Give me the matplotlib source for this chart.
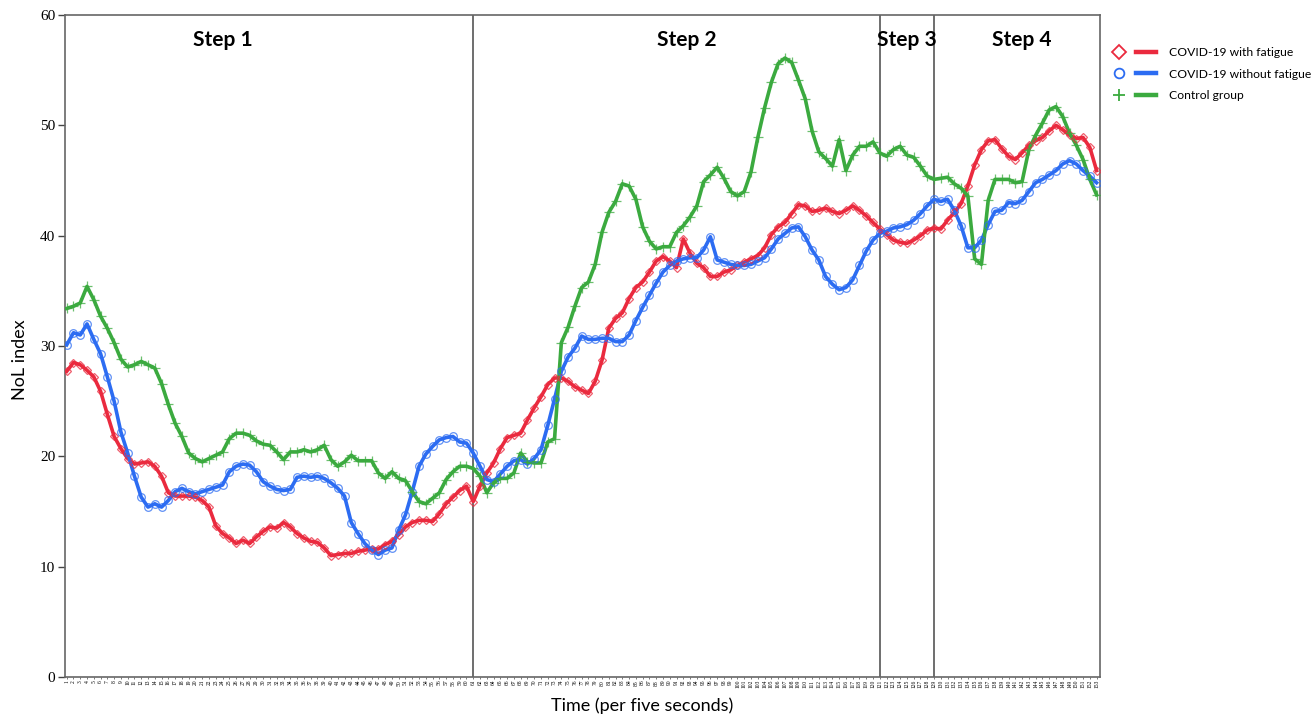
import matplotlib
matplotlib.use("Agg")
import matplotlib.pyplot as plt
from matplotlib.lines import Line2D
from matplotlib.legend_handler import HandlerTuple
import numpy as np

# NoL index per 5-second time point
fatigue = [
    27.7, 28.5, 28.3, 27.8, 27.2, 25.9, 23.8, 21.8, 20.7, 19.8, 19.3, 19.4, 19.5, 19.1, 18.2, 16.7,
    16.4, 16.4, 16.4, 16.3, 16.0, 15.4, 13.7, 13.0, 12.6, 12.1, 12.4, 12.1, 12.7, 13.2, 13.6, 13.5,
    14.0, 13.6, 13.0, 12.6, 12.3, 12.2,
    11.7, 11.0, 11.1, 11.2, 11.2, 11.4, 11.5, 11.6, 11.6, 12.0, 12.3, 12.9, 13.6, 14.0, 14.2, 14.2,
    14.1, 14.8, 15.7, 16.3, 16.9, 17.3, 15.9, 17.3, 18.5, 19.4, 20.7, 21.7, 21.9, 22.1, 23.3, 24.4,
    25.4, 26.5, 27.1, 27.1, 26.8,
    26.3, 26.0, 25.7, 26.8, 28.7, 31.6, 32.5, 33.0, 34.3, 35.3, 35.8, 36.7, 37.7, 38.1, 37.7, 37.1,
    39.7, 38.4, 37.5, 37.1, 36.3, 36.3, 36.7, 36.9, 37.3, 37.6, 37.9, 38.2, 38.9, 40.1, 40.8, 41.2,
    42.0, 42.8, 42.7, 42.2, 42.3, 42.5,
    42.2, 42.0, 42.3, 42.7, 42.3, 41.8, 41.2, 40.6, 40.1, 39.6, 39.4, 39.3, 39.6, 40.0, 40.5, 40.7,
    40.6, 41.4, 42.1, 42.9, 44.5, 46.4, 47.8, 48.6, 48.7, 47.9, 47.2, 46.9, 47.5, 48.2, 48.6, 48.9,
    49.5, 50.0, 49.6, 49.1, 48.8, 48.9, 48.0, 45.9,
]
no_fatigue = [
    30.1, 31.2, 31.0, 32.0, 30.6, 29.3, 27.2, 25.0, 22.2, 20.3, 18.2, 16.3, 15.4, 15.7, 15.4, 16.0,
    16.8, 17.1, 16.8, 16.6, 16.8, 17.0, 17.2, 17.4, 18.6, 19.1, 19.3, 19.2, 18.6, 17.7, 17.3, 17.0,
    16.9, 17.0, 18.1, 18.2, 18.1, 18.2,
    18.0, 17.6, 17.1, 16.4, 14.0, 13.0, 12.1, 11.5, 11.1, 11.5, 11.7, 13.3, 14.7, 16.8, 19.1, 20.2,
    20.9, 21.5, 21.7, 21.8, 21.3, 21.2, 20.3, 19.1, 17.9, 17.7, 18.4, 19.1, 19.6, 19.7, 19.3, 19.8,
    20.6, 22.8, 25.2, 27.7, 29.0,
    29.8, 30.9, 30.6, 30.6, 30.7, 30.7, 30.4, 30.4, 31.0, 32.3, 33.5, 34.6, 35.7, 36.7, 37.3, 37.7,
    37.9, 38.0, 38.0, 38.7, 39.9, 37.8, 37.6, 37.4, 37.3, 37.3, 37.4, 37.7, 38.0, 38.8, 39.7, 40.2,
    40.7, 40.8, 39.9, 38.7, 37.8, 36.3,
    35.6, 35.1, 35.3, 36.0, 37.3, 38.6, 39.6, 40.2, 40.4, 40.7, 40.8, 41.0, 41.4, 42.0, 42.7, 43.3,
    43.1, 43.3, 42.3, 40.9, 38.9, 38.9, 39.6, 41.0, 42.2, 42.3, 43.0, 42.9, 43.2, 44.0, 44.8, 45.1,
    45.5, 45.9, 46.5, 46.8, 46.5, 45.9, 45.4, 44.8,
]
control = [
    33.4, 33.6, 33.9, 35.4, 34.2, 32.7, 31.6, 30.3, 28.8, 28.1, 28.3, 28.6, 28.3, 28.0, 26.6, 24.7,
    23.0, 21.8, 20.3, 19.8, 19.5, 19.8, 20.1, 20.4, 21.6, 22.1, 22.1, 21.9, 21.4, 21.1, 21.0, 20.4,
    19.7, 20.4, 20.4, 20.6, 20.4, 20.6,
    21.0, 19.7, 19.1, 19.5, 20.1, 19.6, 19.6, 19.6, 18.5, 18.0, 18.6, 18.0, 17.8, 16.8, 15.9, 15.7,
    16.2, 16.7, 17.9, 18.6, 19.1, 19.1, 18.9, 18.2, 16.7, 17.6, 18.0, 18.0, 18.5, 20.3, 19.5, 19.4,
    19.4, 21.3, 21.6, 30.3, 31.7,
    33.6, 35.3, 35.8, 37.4, 40.3, 42.1, 43.1, 44.7, 44.5, 43.3, 40.8, 39.5, 38.8, 39.0, 39.0, 40.3,
    40.9, 41.7, 42.7, 44.9, 45.5, 46.2, 45.2, 44.0, 43.6, 44.0, 45.8, 48.9, 51.6, 53.9, 55.6, 56.1,
    55.7, 54.1, 52.4, 49.5, 47.6, 47.0,
    46.3, 48.7, 45.9, 47.3, 48.1, 48.1, 48.5, 47.5, 47.2, 47.8, 48.1, 47.3, 47.1, 46.3, 45.4, 45.1,
    45.2, 45.3, 44.7, 44.3, 43.6, 37.9, 37.4, 43.2, 45.1, 45.1, 45.1, 44.8, 44.9, 47.8, 49.1, 50.2,
    51.4, 51.7, 50.8, 49.3, 48.2, 46.9, 45.1, 43.7,
]
time_labels = [str(i + 1) for i in range(len(fatigue))]
step_names = ["Step 1", "Step 2", "Step 3", "Step 4"]
step_bounds = [60, 120, 128]          # time index where each new step starts
step_label_x = [23, 91.5, 124, 141]   # label centres (time index)

red = "#EA2A3E"
blue = "#2C6CF2"
green = "#3BAA3F"
sans = ["Lato", "DejaVu Sans"]
serif = ["Liberation Serif", "DejaVu Serif"]

fig = plt.figure(figsize=(13.16, 7.14), dpi=100)
ax = fig.add_axes([65 / 1316, 1 - 677 / 714, 1035 / 1316, 662 / 714])

x = np.arange(len(fatigue))
series = [
    (fatigue, red, "D", 4.5, "COVID-19 with fatigue"),
    (no_fatigue, blue, "o", 5.5, "COVID-19 without fatigue"),
    (control, green, "+", 6.5, "Control group"),
]
handles = []
for vals, col, mk, ms, lab in series:
    ax.plot(x, vals, color=col, lw=2.6, zorder=3)
    ax.plot(x, vals, ls="none", marker=mk, ms=ms, mfc="none", mec=col, mew=0.9, alpha=0.75, zorder=4)
    h_mk = Line2D([], [], ls="none", marker=mk, ms=7 if mk != "+" else 9, mfc="none", mec=col, mew=1.3)
    h_ln = Line2D([], [], color=col, lw=3.2)
    handles.append(((h_mk, h_ln), lab))

for b in step_bounds:
    ax.axvline(b, color="#555555", lw=1.2, zorder=2)
for name, sx in zip(step_names, step_label_x):
    ax.text(sx, 57.7, name, ha="center", va="center", fontsize=15, fontweight="bold", family=sans)

ax.set_xlim(-0.25, len(fatigue) - 0.5)
ax.set_ylim(0, 60)
ax.set_yticks(range(0, 61, 10))
ax.set_yticklabels([str(v) for v in range(0, 61, 10)], family=serif, fontsize=11)
ax.set_xticks(x)
ax.set_xticklabels(time_labels, rotation=90, fontsize=4, family=serif)
ax.tick_params(axis="y", direction="out", length=5, width=1, color="#444444", pad=2)
ax.tick_params(axis="x", direction="out", length=1.5, width=0.5, color="#444444", pad=0.5)
for s in ax.spines.values():
    s.set_color("#666666")
    s.set_linewidth(1.2)

fig.text(642 / 1316, 1 - 706 / 714, "Time (per five seconds)", ha="center", va="center",
         fontsize=13, family=sans)
fig.text(20 / 1316, 1 - 360 / 714, "NoL index", ha="center", va="center", rotation=90,
         fontsize=13, family=sans)

leg = fig.legend([h for h, _ in handles], [l for _, l in handles],
                 handler_map={tuple: HandlerTuple(ndivide=None, pad=0.5)},
                 loc="upper left", bbox_to_anchor=(1109 / 1316, 1 - 47 / 714),
                 frameon=False, handlelength=3.9, handletextpad=1.1,
                 labelspacing=0.88, borderaxespad=0, borderpad=0,
                 prop={"family": sans, "size": 8.7})

fig.savefig("out.png", dpi=100)
